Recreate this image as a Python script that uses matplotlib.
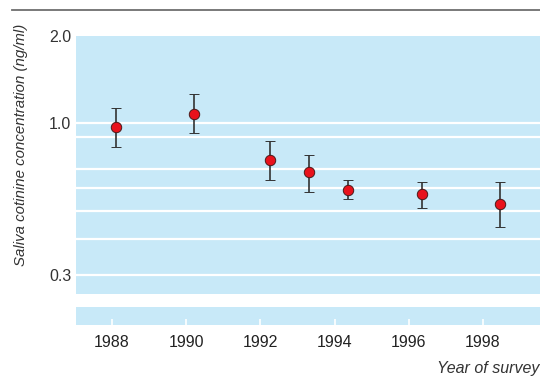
import numpy as np
import matplotlib
matplotlib.use("Agg")
import matplotlib.pyplot as plt
from matplotlib import font_manager

# =============================================================================
# DATA
# =============================================================================
survey_x = [1988.1, 1990.2, 1992.25, 1993.3, 1994.35, 1996.35, 1998.45]
cotinine = [0.97, 1.08, 0.75, 0.68, 0.59, 0.57, 0.53]
ci_low = [0.83, 0.93, 0.64, 0.58, 0.55, 0.51, 0.44]
ci_high = [1.13, 1.26, 0.87, 0.78, 0.64, 0.63, 0.63]

year_ticks = [1988, 1990, 1992, 1994, 1996, 1998]
y_ticks = [2.0, 1.0, 0.3]
y_grid = [1.0, 0.9, 0.7, 0.6, 0.5, 0.4, 0.3]

# =============================================================================
# STYLE
# =============================================================================
names = {f.name for f in font_manager.fontManager.ttflist}
fam = ['Liberation Sans Narrow', 'DejaVu Sans'] if 'Liberation Sans Narrow' in names \
    else ['Liberation Sans', 'DejaVu Sans']
plt.rcParams['font.family'] = fam

blue = '#c8e9f8'
W, H = 540., 377.
f = plt.figure(figsize=(W/100, H/100), dpi=100)

def box(l, t, r, b):
    return [l/W, 1-b/H, (r-l)/W, (b-t)/H]

ax = f.add_axes(box(76, 36, 540, 294))
ax_b = f.add_axes(box(76, 307, 540, 325), sharex=ax)

for a in (ax, ax_b):
    a.set_facecolor(blue)
    for s in a.spines.values():
        s.set_visible(False)

ax.set_yscale('log')
ax.set_ylim(0.259, 2.0)
ax.set_xlim(1987.03, 1999.54)
for g in y_grid:
    ax.axhline(g, color='white', lw=1.6, zorder=1)

yerr = [np.array(cotinine) - np.array(ci_low), np.array(ci_high) - np.array(cotinine)]
ax.errorbar(survey_x, cotinine, yerr=yerr, fmt='o', ms=7.5, mfc='#e8121c', mec='#4a1a1a',
            mew=0.7, ecolor='#333333', elinewidth=1.2, capsize=3.6, capthick=1.2, zorder=3)

ax.set_yticks(y_ticks)
ax.set_yticklabels(['%.1f' % v for v in y_ticks])
ax.yaxis.set_minor_locator(matplotlib.ticker.NullLocator())
ax.tick_params(axis='y', length=0, pad=3.5, labelsize=11.5, labelcolor='#333333')
ax.tick_params(axis='x', bottom=False, labelbottom=False)

ax_b.set_yticks([])
ax_b.set_xticks(year_ticks)
ax_b.set_xticklabels([str(y) for y in year_ticks])
ax_b.tick_params(axis='x', direction='in', length=4.3, width=1.2, color='white',
                 pad=7, labelsize=11.5, labelcolor='#222222')

f.text(21/W, 1-145/H, 'Saliva cotinine concentration (ng/ml)', rotation=90, style='italic',
       ha='center', va='center', fontsize=10.8, color='#333333')
f.text(539/W, 1-368/H, 'Year of survey', style='italic', ha='right', va='center',
       fontsize=11.5, color='#333333')

# top rule
f.add_artist(plt.Line2D([12/W, 1.0], [1-9.5/H, 1-9.5/H], color='#6e6e6e', lw=1.3,
                        transform=f.transFigure))

plt.savefig('out.png', dpi=100)
plt.close()
